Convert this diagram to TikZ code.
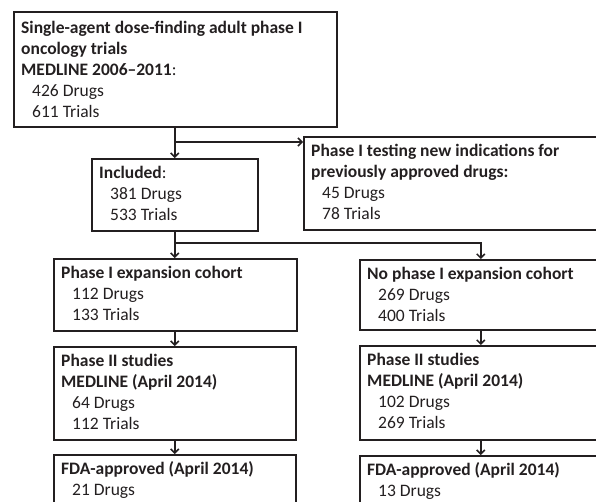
\documentclass[tikz,border=0pt]{standalone}
\usepackage{fontspec}
\setmainfont{Carlito}
\usetikzlibrary{arrows.meta,calc}
\definecolor{ink}{HTML}{231F20}
\begin{document}
\begin{tikzpicture}[x=1pt,y=-1pt,
  box/.style={draw=ink,line width=1.5pt,rectangle,inner sep=0pt,anchor=north west},
  txt/.style={anchor=north west,inner sep=0pt,align=left,text=ink,
    font=\fontsize{17.5}{21}\selectfont},
  arr/.style={draw=ink,line width=1.5pt,-{Straight Barb[length=4pt,width=8pt,line width=1.5pt]}},
  ln/.style={draw=ink,line width=1.5pt}]
\useasboundingbox (0,0) rectangle (596,501);
\clip (0,0) rectangle (596,501);
\newcommand{\ind}{\hspace*{11pt}}
% boxes
\node[box,minimum width=323pt,minimum height=115pt] (b1) at (13,11) {};
\node[box,minimum width=166pt,minimum height=72pt] (inc) at (91,158) {};
\node[box,minimum width=300pt,minimum height=93pt] (ex) at (303,136) {};
\node[box,minimum width=243pt,minimum height=72pt] (pe) at (53,258) {};
\node[box,minimum width=242pt,minimum height=70pt] (npe) at (359,259) {};
\node[box,minimum width=242pt,minimum height=93pt] (p2l) at (53,346) {};
\node[box,minimum width=242pt,minimum height=94pt] (p2r) at (359,345) {};
\node[box,minimum width=242pt,minimum height=80pt] (fdal) at (53,454) {};
\node[box,minimum width=242pt,minimum height=80pt] (fdar) at (359,455) {};
% texts
\node[txt] (t1) at ($(b1.north west)+(8,7.3)$) {\strut\textbf{Single-agent dose-finding adult phase I}\\\strut\textbf{oncology trials}\\\strut\textbf{MEDLINE 2006–2011}:\\\strut\ind 426 Drugs\\\strut\ind 611 Trials};
\node[txt] (tinc) at ($(inc.north west)+(8,5.3)$) {\strut\textbf{Included}:\\\strut\ind 381 Drugs\\\strut\ind 533 Trials};
\node[txt] (tex) at ($(ex.north west)+(8,5.3)$) {\strut\textbf{Phase I testing new indications for}\\\strut\textbf{previously approved drugs:}\\\strut\ind 45 Drugs\\\strut\ind 78 Trials};
\node[txt] (tpe) at ($(pe.north west)+(8,5.3)$) {\strut\textbf{Phase I expansion cohort}\\\strut\ind 112 Drugs\\\strut\ind 133 Trials};
\node[txt] (tnpe) at ($(npe.north west)+(8,5.3)$) {\strut\textbf{No phase I expansion cohort}\\\strut\ind 269 Drugs\\\strut\ind 400 Trials};
\node[txt] (tp2l) at ($(p2l.north west)+(8,5.3)$) {\strut\textbf{Phase II studies}\\\strut\textbf{MEDLINE (April 2014)}\\\strut\ind 64 Drugs\\\strut\ind 112 Trials};
\node[txt] (tp2r) at ($(p2r.north west)+(8,5.3)$) {\strut\textbf{Phase II studies}\\\strut\textbf{MEDLINE (April 2014)}\\\strut\ind 102 Drugs\\\strut\ind 269 Trials};
\node[txt] (tfdal) at ($(fdal.north west)+(8,5.3)$) {\strut\textbf{FDA-approved (April 2014)}\\\strut\ind 21 Drugs};
\node[txt] (tfdar) at ($(fdar.north west)+(8,5.3)$) {\strut\textbf{FDA-approved (April 2014)}\\\strut\ind 13 Drugs};
% connectors
\coordinate (j1) at (inc.north |- 0,142);
\coordinate (j2) at (inc.south |- 0,243);
\draw[arr] (b1.south -| inc.north) -- (inc.north);
\draw[arr] (j1) -- (j1 -| ex.west);
\draw[arr] (inc.south) -- (inc.south |- pe.north);
\draw[arr] (j2) -| (npe.north);
\draw[arr] (pe.south -| inc.south) -- (inc.south |- p2l.north);
\draw[arr] (p2l.south -| inc.south) -- (inc.south |- fdal.north);
\draw[arr] (npe.south) -- (p2r.north);
\draw[arr] (p2r.south) -- (fdar.north);
\end{tikzpicture}
\end{document}
